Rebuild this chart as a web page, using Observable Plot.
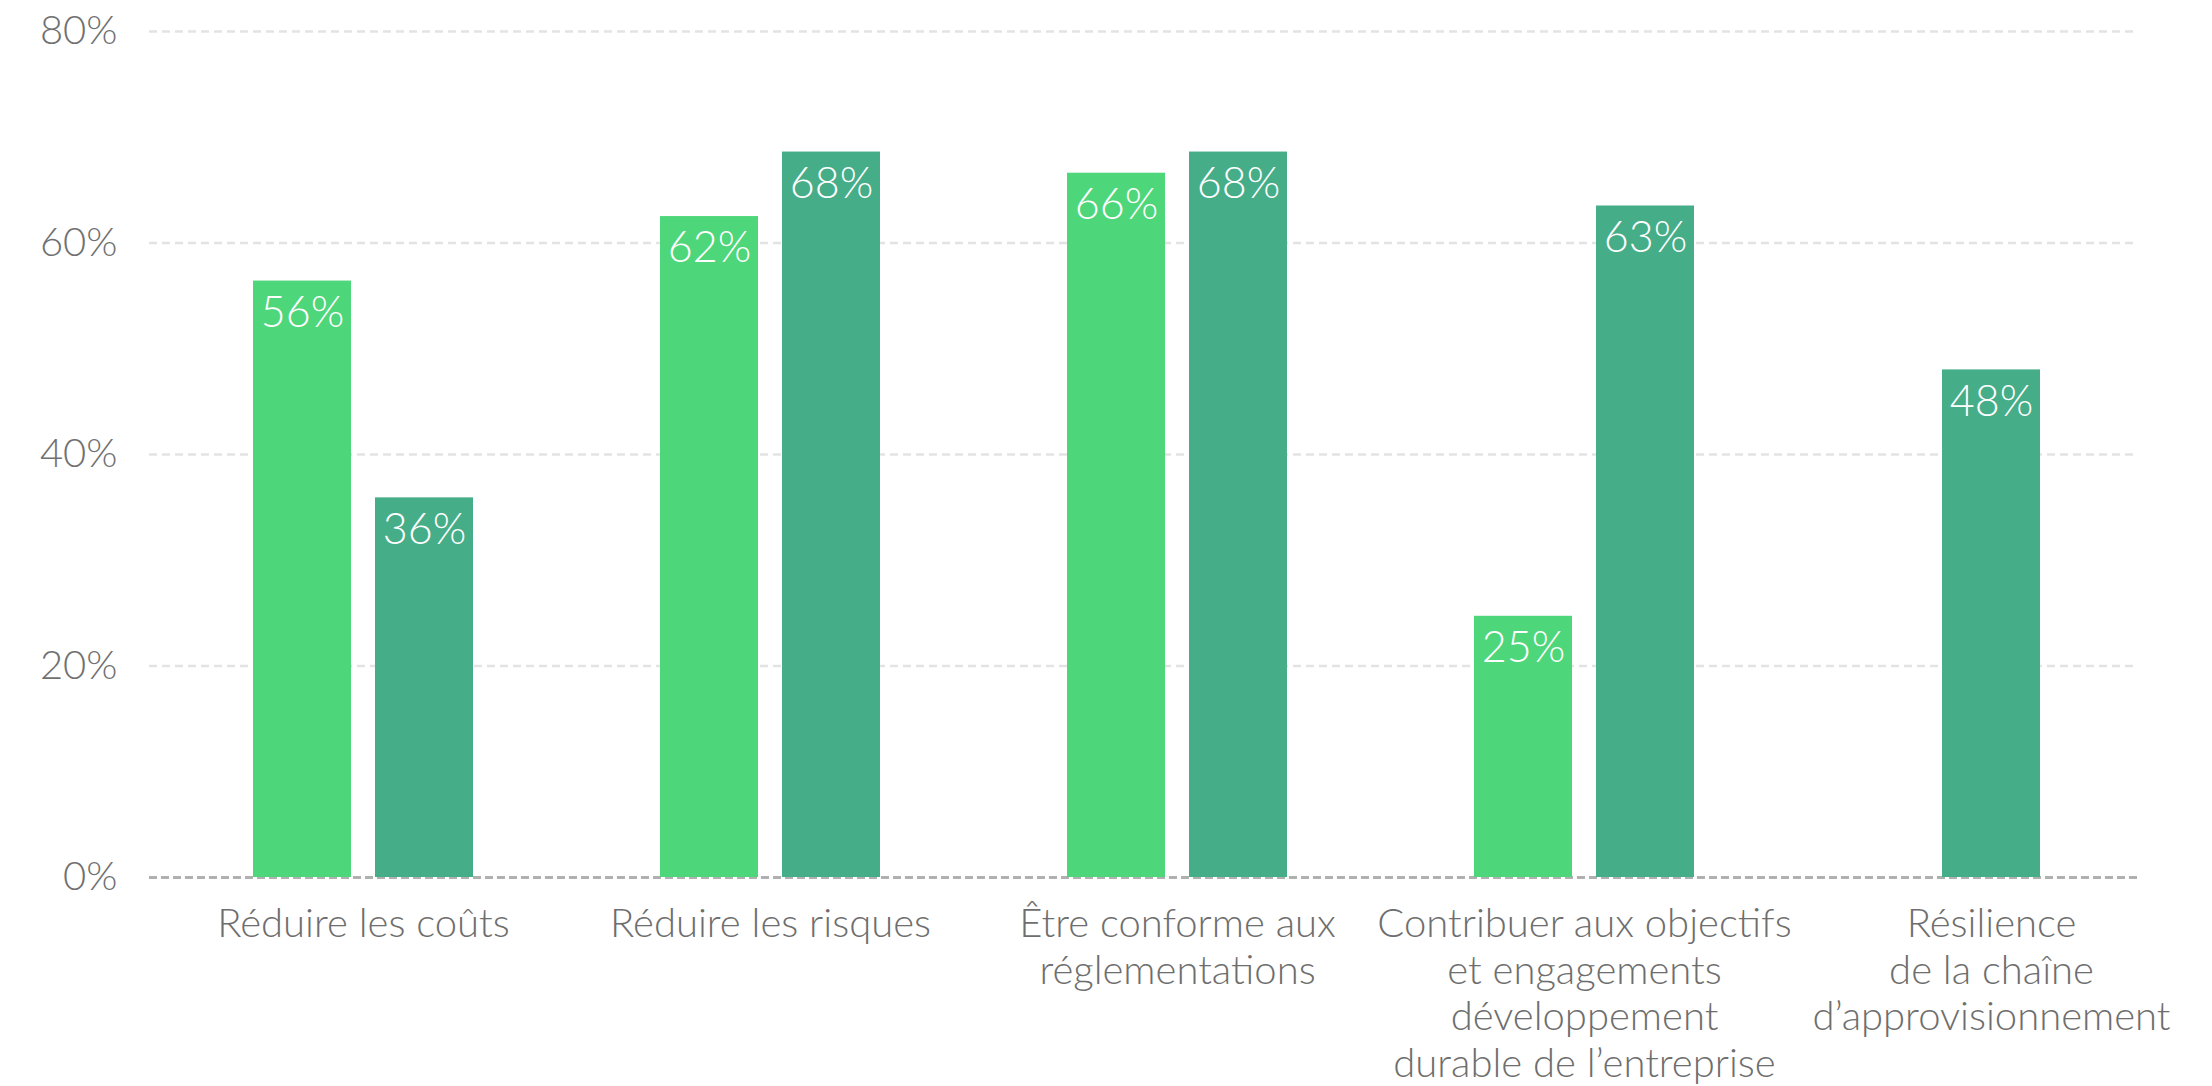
<!DOCTYPE html>
<html>
<head>
<meta charset="utf-8">
<script src="https://cdn.jsdelivr.net/npm/d3@7"></script>
<script src="https://cdn.jsdelivr.net/npm/@observablehq/plot@0.6"></script>
<style>
  html, body { margin: 0; padding: 0; background: #fff; overflow: hidden; }
  svg { display: block; }
</style>
</head>
<body>
<div id="chart"></div>
<script>
const categories = [
  "Réduire les coûts",
  "Réduire les risques",
  "Être conforme aux réglementations",
  "Contribuer aux objectifs et engagements développement durable de l’entreprise",
  "Résilience de la chaîne d’approvisionnement"
];
const categoryLabels = [
  "Réduire les coûts",
  "Réduire les risques",
  "Être conforme aux\nréglementations",
  "Contribuer aux objectifs\net engagements\ndéveloppement\ndurable de l’entreprise",
  "Résilience\nde la chaîne\nd’approvisionnement"
];
const seriesNames = ["Série 1", "Série 2"];
const series1Values = [56.4, 62.5, 66.6, 24.7, null];
const series2Values = [35.9, 68.6, 68.6, 63.5, 48.0];
const series1Labels = ["56%", "62%", "66%", "25%", null];
const series2Labels = ["36%", "68%", "68%", "63%", "48%"];
const yTicks = [0, 20, 40, 60, 80];

const green = "#4ed67a";
const teal = "#45ad88";

const rows1 = categories.map((c, i) => ({category: c, series: seriesNames[0], value: series1Values[i], label: series1Labels[i]}))
  .filter(d => d.value != null);
const rows2 = categories.map((c, i) => ({category: c, series: seriesNames[1], value: series2Values[i], label: series2Labels[i], paired: series1Values[i] != null}));
const rows2Paired = rows2.filter(d => d.paired);
const rows2Solo = rows2.filter(d => !d.paired);

const font = "Lato, 'Noto Sans', sans-serif";
const labelOf = new Map(categories.map((c, i) => [c, categoryLabels[i]]));

const chart = Plot.plot({
  width: 2212,
  height: 1086,
  marginLeft: 149,
  marginRight: 75,
  marginTop: 31,
  marginBottom: 209,
  style: {fontFamily: font, background: "#fff"},
  x: {type: "band", domain: categories, paddingInner: 0.46, paddingOuter: 0, insetLeft: 103, insetRight: 35, axis: null},
  y: {domain: [0, 80], axis: null},
  marks: [
    Plot.gridY(yTicks.filter(t => t > 0), {stroke: "#e3e3e3", strokeOpacity: 1, strokeWidth: 2.5, strokeDasharray: "8,5"}),
    Plot.ruleY([0], {stroke: "#b0b0b0", strokeWidth: 3, strokeDasharray: "8,4"}),
    Plot.axisY(yTicks, {tickSize: 0, tickPadding: 32, label: null, tickFormat: d => d + "%", fontSize: 40, fontWeight: 300, fill: "#707070", textAnchor: "end"}),
    Plot.barY(rows1, {x: "category", y: "value", fill: green, insetRight: 122}),
    Plot.barY(rows2Paired, {x: "category", y: "value", fill: teal, insetLeft: 122}),
    Plot.barY(rows2Solo, {x: "category", y: "value", fill: teal, insetLeft: 61, insetRight: 61}),
    Plot.text(rows1, {x: "category", y: "value", text: "label", dx: -61, dy: 32, fill: "#fff", fontSize: 43, fontWeight: 300, lineAnchor: "middle"}),
    Plot.text(rows2Paired, {x: "category", y: "value", text: "label", dx: 61, dy: 32, fill: "#fff", fontSize: 43, fontWeight: 300, lineAnchor: "middle"}),
    Plot.text(rows2Solo, {x: "category", y: "value", text: "label", dy: 32, fill: "#fff", fontSize: 43, fontWeight: 300, lineAnchor: "middle"}),
    Plot.text(categories, {x: d => d, frameAnchor: "bottom", text: d => labelOf.get(d), lineAnchor: "top", dy: 26, lineHeight: 1.17, fontSize: 40, fontWeight: 300, fill: "#6e6e6e"})
  ]
});
document.getElementById("chart").appendChild(chart);
</script>
</body>
</html>
